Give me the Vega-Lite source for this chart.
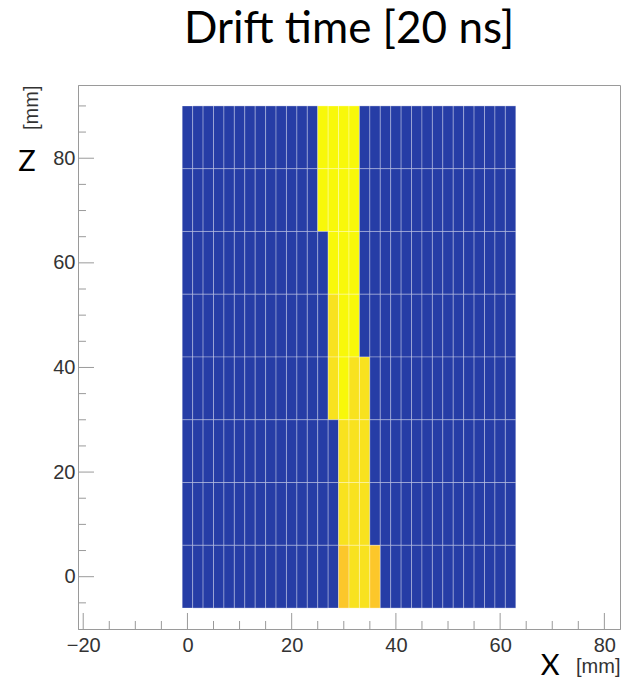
{
  "$schema": "https://vega.github.io/schema/vega-lite/v6.json",
  "width": 542,
  "height": 544,
  "autosize": {"type": "none"},
  "padding": {"left": 78, "top": 85, "right": 3, "bottom": 54},
  "title": {
    "text": "Drift time [20 ns]",
    "font": "Lato",
    "fontSize": 44,
    "fontWeight": "normal",
    "color": "#000000",
    "anchor": "middle",
    "frame": "group",
    "baseline": "bottom",
    "offset": -11
  },
  "config": {
    "view": {"stroke": "#9a9a9a", "strokeWidth": 1},
    "axis": {
      "grid": false,
      "ticks": false,
      "tickSize": 0,
      "domainColor": "#9a9a9a",
      "domainWidth": 1,
      "labelFont": "Liberation Sans",
      "labelFontSize": 20,
      "labelColor": "#333333",
      "titleFont": "Liberation Sans",
      "titleFontSize": 20,
      "titleFontWeight": "normal",
      "titleColor": "#333333"
    }
  },
  "layer": [
    {
      "data": {
        "values": [
          {"x0":-1,"x1":1,"z0":78,"z1":90,"t":0},{"x0":1,"x1":3,"z0":78,"z1":90,"t":0},{"x0":3,"x1":5,"z0":78,"z1":90,"t":0},{"x0":5,"x1":7,"z0":78,"z1":90,"t":0},{"x0":7,"x1":9,"z0":78,"z1":90,"t":0},{"x0":9,"x1":11,"z0":78,"z1":90,"t":0},{"x0":11,"x1":13,"z0":78,"z1":90,"t":0},{"x0":13,"x1":15,"z0":78,"z1":90,"t":0},{"x0":15,"x1":17,"z0":78,"z1":90,"t":0},{"x0":17,"x1":19,"z0":78,"z1":90,"t":0},{"x0":19,"x1":21,"z0":78,"z1":90,"t":0},{"x0":21,"x1":23,"z0":78,"z1":90,"t":0},{"x0":23,"x1":25,"z0":78,"z1":90,"t":0},{"x0":25,"x1":27,"z0":78,"z1":90,"t":9},{"x0":27,"x1":29,"z0":78,"z1":90,"t":9},{"x0":29,"x1":31,"z0":78,"z1":90,"t":9},{"x0":31,"x1":33,"z0":78,"z1":90,"t":9},{"x0":33,"x1":35,"z0":78,"z1":90,"t":0},{"x0":35,"x1":37,"z0":78,"z1":90,"t":0},{"x0":37,"x1":39,"z0":78,"z1":90,"t":0},{"x0":39,"x1":41,"z0":78,"z1":90,"t":0},{"x0":41,"x1":43,"z0":78,"z1":90,"t":0},{"x0":43,"x1":45,"z0":78,"z1":90,"t":0},{"x0":45,"x1":47,"z0":78,"z1":90,"t":0},{"x0":47,"x1":49,"z0":78,"z1":90,"t":0},{"x0":49,"x1":51,"z0":78,"z1":90,"t":0},{"x0":51,"x1":53,"z0":78,"z1":90,"t":0},{"x0":53,"x1":55,"z0":78,"z1":90,"t":0},{"x0":55,"x1":57,"z0":78,"z1":90,"t":0},{"x0":57,"x1":59,"z0":78,"z1":90,"t":0},{"x0":59,"x1":61,"z0":78,"z1":90,"t":0},{"x0":61,"x1":63,"z0":78,"z1":90,"t":0},
          {"x0":-1,"x1":1,"z0":66,"z1":78,"t":0},{"x0":1,"x1":3,"z0":66,"z1":78,"t":0},{"x0":3,"x1":5,"z0":66,"z1":78,"t":0},{"x0":5,"x1":7,"z0":66,"z1":78,"t":0},{"x0":7,"x1":9,"z0":66,"z1":78,"t":0},{"x0":9,"x1":11,"z0":66,"z1":78,"t":0},{"x0":11,"x1":13,"z0":66,"z1":78,"t":0},{"x0":13,"x1":15,"z0":66,"z1":78,"t":0},{"x0":15,"x1":17,"z0":66,"z1":78,"t":0},{"x0":17,"x1":19,"z0":66,"z1":78,"t":0},{"x0":19,"x1":21,"z0":66,"z1":78,"t":0},{"x0":21,"x1":23,"z0":66,"z1":78,"t":0},{"x0":23,"x1":25,"z0":66,"z1":78,"t":0},{"x0":25,"x1":27,"z0":66,"z1":78,"t":9},{"x0":27,"x1":29,"z0":66,"z1":78,"t":9},{"x0":29,"x1":31,"z0":66,"z1":78,"t":9},{"x0":31,"x1":33,"z0":66,"z1":78,"t":9},{"x0":33,"x1":35,"z0":66,"z1":78,"t":0},{"x0":35,"x1":37,"z0":66,"z1":78,"t":0},{"x0":37,"x1":39,"z0":66,"z1":78,"t":0},{"x0":39,"x1":41,"z0":66,"z1":78,"t":0},{"x0":41,"x1":43,"z0":66,"z1":78,"t":0},{"x0":43,"x1":45,"z0":66,"z1":78,"t":0},{"x0":45,"x1":47,"z0":66,"z1":78,"t":0},{"x0":47,"x1":49,"z0":66,"z1":78,"t":0},{"x0":49,"x1":51,"z0":66,"z1":78,"t":0},{"x0":51,"x1":53,"z0":66,"z1":78,"t":0},{"x0":53,"x1":55,"z0":66,"z1":78,"t":0},{"x0":55,"x1":57,"z0":66,"z1":78,"t":0},{"x0":57,"x1":59,"z0":66,"z1":78,"t":0},{"x0":59,"x1":61,"z0":66,"z1":78,"t":0},{"x0":61,"x1":63,"z0":66,"z1":78,"t":0},
          {"x0":-1,"x1":1,"z0":54,"z1":66,"t":0},{"x0":1,"x1":3,"z0":54,"z1":66,"t":0},{"x0":3,"x1":5,"z0":54,"z1":66,"t":0},{"x0":5,"x1":7,"z0":54,"z1":66,"t":0},{"x0":7,"x1":9,"z0":54,"z1":66,"t":0},{"x0":9,"x1":11,"z0":54,"z1":66,"t":0},{"x0":11,"x1":13,"z0":54,"z1":66,"t":0},{"x0":13,"x1":15,"z0":54,"z1":66,"t":0},{"x0":15,"x1":17,"z0":54,"z1":66,"t":0},{"x0":17,"x1":19,"z0":54,"z1":66,"t":0},{"x0":19,"x1":21,"z0":54,"z1":66,"t":0},{"x0":21,"x1":23,"z0":54,"z1":66,"t":0},{"x0":23,"x1":25,"z0":54,"z1":66,"t":0},{"x0":25,"x1":27,"z0":54,"z1":66,"t":0},{"x0":27,"x1":29,"z0":54,"z1":66,"t":9},{"x0":29,"x1":31,"z0":54,"z1":66,"t":9},{"x0":31,"x1":33,"z0":54,"z1":66,"t":9},{"x0":33,"x1":35,"z0":54,"z1":66,"t":0},{"x0":35,"x1":37,"z0":54,"z1":66,"t":0},{"x0":37,"x1":39,"z0":54,"z1":66,"t":0},{"x0":39,"x1":41,"z0":54,"z1":66,"t":0},{"x0":41,"x1":43,"z0":54,"z1":66,"t":0},{"x0":43,"x1":45,"z0":54,"z1":66,"t":0},{"x0":45,"x1":47,"z0":54,"z1":66,"t":0},{"x0":47,"x1":49,"z0":54,"z1":66,"t":0},{"x0":49,"x1":51,"z0":54,"z1":66,"t":0},{"x0":51,"x1":53,"z0":54,"z1":66,"t":0},{"x0":53,"x1":55,"z0":54,"z1":66,"t":0},{"x0":55,"x1":57,"z0":54,"z1":66,"t":0},{"x0":57,"x1":59,"z0":54,"z1":66,"t":0},{"x0":59,"x1":61,"z0":54,"z1":66,"t":0},{"x0":61,"x1":63,"z0":54,"z1":66,"t":0},
          {"x0":-1,"x1":1,"z0":42,"z1":54,"t":0},{"x0":1,"x1":3,"z0":42,"z1":54,"t":0},{"x0":3,"x1":5,"z0":42,"z1":54,"t":0},{"x0":5,"x1":7,"z0":42,"z1":54,"t":0},{"x0":7,"x1":9,"z0":42,"z1":54,"t":0},{"x0":9,"x1":11,"z0":42,"z1":54,"t":0},{"x0":11,"x1":13,"z0":42,"z1":54,"t":0},{"x0":13,"x1":15,"z0":42,"z1":54,"t":0},{"x0":15,"x1":17,"z0":42,"z1":54,"t":0},{"x0":17,"x1":19,"z0":42,"z1":54,"t":0},{"x0":19,"x1":21,"z0":42,"z1":54,"t":0},{"x0":21,"x1":23,"z0":42,"z1":54,"t":0},{"x0":23,"x1":25,"z0":42,"z1":54,"t":0},{"x0":25,"x1":27,"z0":42,"z1":54,"t":0},{"x0":27,"x1":29,"z0":42,"z1":54,"t":8},{"x0":29,"x1":31,"z0":42,"z1":54,"t":9},{"x0":31,"x1":33,"z0":42,"z1":54,"t":9},{"x0":33,"x1":35,"z0":42,"z1":54,"t":0},{"x0":35,"x1":37,"z0":42,"z1":54,"t":0},{"x0":37,"x1":39,"z0":42,"z1":54,"t":0},{"x0":39,"x1":41,"z0":42,"z1":54,"t":0},{"x0":41,"x1":43,"z0":42,"z1":54,"t":0},{"x0":43,"x1":45,"z0":42,"z1":54,"t":0},{"x0":45,"x1":47,"z0":42,"z1":54,"t":0},{"x0":47,"x1":49,"z0":42,"z1":54,"t":0},{"x0":49,"x1":51,"z0":42,"z1":54,"t":0},{"x0":51,"x1":53,"z0":42,"z1":54,"t":0},{"x0":53,"x1":55,"z0":42,"z1":54,"t":0},{"x0":55,"x1":57,"z0":42,"z1":54,"t":0},{"x0":57,"x1":59,"z0":42,"z1":54,"t":0},{"x0":59,"x1":61,"z0":42,"z1":54,"t":0},{"x0":61,"x1":63,"z0":42,"z1":54,"t":0},
          {"x0":-1,"x1":1,"z0":30,"z1":42,"t":0},{"x0":1,"x1":3,"z0":30,"z1":42,"t":0},{"x0":3,"x1":5,"z0":30,"z1":42,"t":0},{"x0":5,"x1":7,"z0":30,"z1":42,"t":0},{"x0":7,"x1":9,"z0":30,"z1":42,"t":0},{"x0":9,"x1":11,"z0":30,"z1":42,"t":0},{"x0":11,"x1":13,"z0":30,"z1":42,"t":0},{"x0":13,"x1":15,"z0":30,"z1":42,"t":0},{"x0":15,"x1":17,"z0":30,"z1":42,"t":0},{"x0":17,"x1":19,"z0":30,"z1":42,"t":0},{"x0":19,"x1":21,"z0":30,"z1":42,"t":0},{"x0":21,"x1":23,"z0":30,"z1":42,"t":0},{"x0":23,"x1":25,"z0":30,"z1":42,"t":0},{"x0":25,"x1":27,"z0":30,"z1":42,"t":0},{"x0":27,"x1":29,"z0":30,"z1":42,"t":8},{"x0":29,"x1":31,"z0":30,"z1":42,"t":9},{"x0":31,"x1":33,"z0":30,"z1":42,"t":8},{"x0":33,"x1":35,"z0":30,"z1":42,"t":8},{"x0":35,"x1":37,"z0":30,"z1":42,"t":0},{"x0":37,"x1":39,"z0":30,"z1":42,"t":0},{"x0":39,"x1":41,"z0":30,"z1":42,"t":0},{"x0":41,"x1":43,"z0":30,"z1":42,"t":0},{"x0":43,"x1":45,"z0":30,"z1":42,"t":0},{"x0":45,"x1":47,"z0":30,"z1":42,"t":0},{"x0":47,"x1":49,"z0":30,"z1":42,"t":0},{"x0":49,"x1":51,"z0":30,"z1":42,"t":0},{"x0":51,"x1":53,"z0":30,"z1":42,"t":0},{"x0":53,"x1":55,"z0":30,"z1":42,"t":0},{"x0":55,"x1":57,"z0":30,"z1":42,"t":0},{"x0":57,"x1":59,"z0":30,"z1":42,"t":0},{"x0":59,"x1":61,"z0":30,"z1":42,"t":0},{"x0":61,"x1":63,"z0":30,"z1":42,"t":0},
          {"x0":-1,"x1":1,"z0":18,"z1":30,"t":0},{"x0":1,"x1":3,"z0":18,"z1":30,"t":0},{"x0":3,"x1":5,"z0":18,"z1":30,"t":0},{"x0":5,"x1":7,"z0":18,"z1":30,"t":0},{"x0":7,"x1":9,"z0":18,"z1":30,"t":0},{"x0":9,"x1":11,"z0":18,"z1":30,"t":0},{"x0":11,"x1":13,"z0":18,"z1":30,"t":0},{"x0":13,"x1":15,"z0":18,"z1":30,"t":0},{"x0":15,"x1":17,"z0":18,"z1":30,"t":0},{"x0":17,"x1":19,"z0":18,"z1":30,"t":0},{"x0":19,"x1":21,"z0":18,"z1":30,"t":0},{"x0":21,"x1":23,"z0":18,"z1":30,"t":0},{"x0":23,"x1":25,"z0":18,"z1":30,"t":0},{"x0":25,"x1":27,"z0":18,"z1":30,"t":0},{"x0":27,"x1":29,"z0":18,"z1":30,"t":0},{"x0":29,"x1":31,"z0":18,"z1":30,"t":8},{"x0":31,"x1":33,"z0":18,"z1":30,"t":8},{"x0":33,"x1":35,"z0":18,"z1":30,"t":8},{"x0":35,"x1":37,"z0":18,"z1":30,"t":0},{"x0":37,"x1":39,"z0":18,"z1":30,"t":0},{"x0":39,"x1":41,"z0":18,"z1":30,"t":0},{"x0":41,"x1":43,"z0":18,"z1":30,"t":0},{"x0":43,"x1":45,"z0":18,"z1":30,"t":0},{"x0":45,"x1":47,"z0":18,"z1":30,"t":0},{"x0":47,"x1":49,"z0":18,"z1":30,"t":0},{"x0":49,"x1":51,"z0":18,"z1":30,"t":0},{"x0":51,"x1":53,"z0":18,"z1":30,"t":0},{"x0":53,"x1":55,"z0":18,"z1":30,"t":0},{"x0":55,"x1":57,"z0":18,"z1":30,"t":0},{"x0":57,"x1":59,"z0":18,"z1":30,"t":0},{"x0":59,"x1":61,"z0":18,"z1":30,"t":0},{"x0":61,"x1":63,"z0":18,"z1":30,"t":0},
          {"x0":-1,"x1":1,"z0":6,"z1":18,"t":0},{"x0":1,"x1":3,"z0":6,"z1":18,"t":0},{"x0":3,"x1":5,"z0":6,"z1":18,"t":0},{"x0":5,"x1":7,"z0":6,"z1":18,"t":0},{"x0":7,"x1":9,"z0":6,"z1":18,"t":0},{"x0":9,"x1":11,"z0":6,"z1":18,"t":0},{"x0":11,"x1":13,"z0":6,"z1":18,"t":0},{"x0":13,"x1":15,"z0":6,"z1":18,"t":0},{"x0":15,"x1":17,"z0":6,"z1":18,"t":0},{"x0":17,"x1":19,"z0":6,"z1":18,"t":0},{"x0":19,"x1":21,"z0":6,"z1":18,"t":0},{"x0":21,"x1":23,"z0":6,"z1":18,"t":0},{"x0":23,"x1":25,"z0":6,"z1":18,"t":0},{"x0":25,"x1":27,"z0":6,"z1":18,"t":0},{"x0":27,"x1":29,"z0":6,"z1":18,"t":0},{"x0":29,"x1":31,"z0":6,"z1":18,"t":8},{"x0":31,"x1":33,"z0":6,"z1":18,"t":8},{"x0":33,"x1":35,"z0":6,"z1":18,"t":8},{"x0":35,"x1":37,"z0":6,"z1":18,"t":0},{"x0":37,"x1":39,"z0":6,"z1":18,"t":0},{"x0":39,"x1":41,"z0":6,"z1":18,"t":0},{"x0":41,"x1":43,"z0":6,"z1":18,"t":0},{"x0":43,"x1":45,"z0":6,"z1":18,"t":0},{"x0":45,"x1":47,"z0":6,"z1":18,"t":0},{"x0":47,"x1":49,"z0":6,"z1":18,"t":0},{"x0":49,"x1":51,"z0":6,"z1":18,"t":0},{"x0":51,"x1":53,"z0":6,"z1":18,"t":0},{"x0":53,"x1":55,"z0":6,"z1":18,"t":0},{"x0":55,"x1":57,"z0":6,"z1":18,"t":0},{"x0":57,"x1":59,"z0":6,"z1":18,"t":0},{"x0":59,"x1":61,"z0":6,"z1":18,"t":0},{"x0":61,"x1":63,"z0":6,"z1":18,"t":0},
          {"x0":-1,"x1":1,"z0":-6,"z1":6,"t":0},{"x0":1,"x1":3,"z0":-6,"z1":6,"t":0},{"x0":3,"x1":5,"z0":-6,"z1":6,"t":0},{"x0":5,"x1":7,"z0":-6,"z1":6,"t":0},{"x0":7,"x1":9,"z0":-6,"z1":6,"t":0},{"x0":9,"x1":11,"z0":-6,"z1":6,"t":0},{"x0":11,"x1":13,"z0":-6,"z1":6,"t":0},{"x0":13,"x1":15,"z0":-6,"z1":6,"t":0},{"x0":15,"x1":17,"z0":-6,"z1":6,"t":0},{"x0":17,"x1":19,"z0":-6,"z1":6,"t":0},{"x0":19,"x1":21,"z0":-6,"z1":6,"t":0},{"x0":21,"x1":23,"z0":-6,"z1":6,"t":0},{"x0":23,"x1":25,"z0":-6,"z1":6,"t":0},{"x0":25,"x1":27,"z0":-6,"z1":6,"t":0},{"x0":27,"x1":29,"z0":-6,"z1":6,"t":0},{"x0":29,"x1":31,"z0":-6,"z1":6,"t":7},{"x0":31,"x1":33,"z0":-6,"z1":6,"t":8},{"x0":33,"x1":35,"z0":-6,"z1":6,"t":8},{"x0":35,"x1":37,"z0":-6,"z1":6,"t":7},{"x0":37,"x1":39,"z0":-6,"z1":6,"t":0},{"x0":39,"x1":41,"z0":-6,"z1":6,"t":0},{"x0":41,"x1":43,"z0":-6,"z1":6,"t":0},{"x0":43,"x1":45,"z0":-6,"z1":6,"t":0},{"x0":45,"x1":47,"z0":-6,"z1":6,"t":0},{"x0":47,"x1":49,"z0":-6,"z1":6,"t":0},{"x0":49,"x1":51,"z0":-6,"z1":6,"t":0},{"x0":51,"x1":53,"z0":-6,"z1":6,"t":0},{"x0":53,"x1":55,"z0":-6,"z1":6,"t":0},{"x0":55,"x1":57,"z0":-6,"z1":6,"t":0},{"x0":57,"x1":59,"z0":-6,"z1":6,"t":0},{"x0":59,"x1":61,"z0":-6,"z1":6,"t":0},{"x0":61,"x1":63,"z0":-6,"z1":6,"t":0}
        ]
      },
      "mark": {"type": "rect", "stroke": "#ffffff", "strokeOpacity": 0.3, "strokeWidth": 1},
      "encoding": {
        "x": {
          "field": "x0",
          "type": "quantitative",
          "scale": {"domain": [-21, 83], "nice": false, "zero": false},
          "axis": {
            "values": [-20, 0, 20, 40, 60, 80],
            "labelPadding": 6,
            "labelFlush": false,
            "labelOverlap": false,
            "title": "[mm]",
            "titleAnchor": "end",
            "titleAlign": "right",
            "titleBaseline": "alphabetic",
            "titleX": 542,
            "titleY": 43
          }
        },
        "x2": {"field": "x1"},
        "y": {
          "field": "z0",
          "type": "quantitative",
          "scale": {"domain": [-10, 94], "nice": false, "zero": false},
          "axis": {
            "values": [0, 20, 40, 60, 80],
            "labelPadding": 3,
            "labelFlush": false,
            "labelOverlap": false,
            "title": "[mm]",
            "titleAngle": -90,
            "titleAnchor": "end",
            "titleAlign": "right",
            "titleBaseline": "alphabetic",
            "titleX": -41,
            "titleY": 0
          }
        },
        "y2": {"field": "z1"},
        "color": {
          "field": "t",
          "type": "quantitative",
          "scale": {"domain": [0, 7, 8, 9], "range": ["#263da6", "#fcc72a", "#f8e21f", "#f8f80a"]},
          "legend": null
        }
      }
    },
    {
      "data": {"values": [{"v": -20}, {"v": 0}, {"v": 20}, {"v": 40}, {"v": 60}, {"v": 80}]},
      "mark": {"type": "rule", "color": "#9a9a9a", "strokeWidth": 1},
      "encoding": {
        "x": {"field": "v", "type": "quantitative"},
        "y": {"datum": -10},
        "y2": {"datum": -6.94}
      }
    },
    {
      "data": {"values": [{"v": -15}, {"v": -10}, {"v": -5}, {"v": 5}, {"v": 10}, {"v": 15}, {"v": 25}, {"v": 30}, {"v": 35}, {"v": 45}, {"v": 50}, {"v": 55}, {"v": 65}, {"v": 70}, {"v": 75}]},
      "mark": {"type": "rule", "color": "#9a9a9a", "strokeWidth": 1},
      "encoding": {
        "x": {"field": "v", "type": "quantitative"},
        "y": {"datum": -10},
        "y2": {"datum": -8.47}
      }
    },
    {
      "data": {"values": [{"v": 0}, {"v": 20}, {"v": 40}, {"v": 60}, {"v": 80}]},
      "mark": {"type": "rule", "color": "#9a9a9a", "strokeWidth": 1},
      "encoding": {
        "y": {"field": "v", "type": "quantitative"},
        "x": {"datum": -21},
        "x2": {"datum": -17.93}
      }
    },
    {
      "data": {"values": [{"v": -5}, {"v": 5}, {"v": 10}, {"v": 15}, {"v": 25}, {"v": 30}, {"v": 35}, {"v": 45}, {"v": 50}, {"v": 55}, {"v": 65}, {"v": 70}, {"v": 75}, {"v": 85}, {"v": 90}]},
      "mark": {"type": "rule", "color": "#9a9a9a", "strokeWidth": 1},
      "encoding": {
        "y": {"field": "v", "type": "quantitative"},
        "x": {"datum": -21},
        "x2": {"datum": -19.47}
      }
    },
    {
      "data": {"values": [{"label": "Z", "x": -30.8, "z": 77.5}, {"label": "X", "x": 69.6, "z": -18.7}]},
      "mark": {"type": "text", "font": "Lato", "fontSize": 29, "color": "#000000", "align": "center", "baseline": "alphabetic"},
      "encoding": {
        "x": {"field": "x", "type": "quantitative"},
        "y": {"field": "z", "type": "quantitative"},
        "text": {"field": "label"}
      }
    }
  ]
}
